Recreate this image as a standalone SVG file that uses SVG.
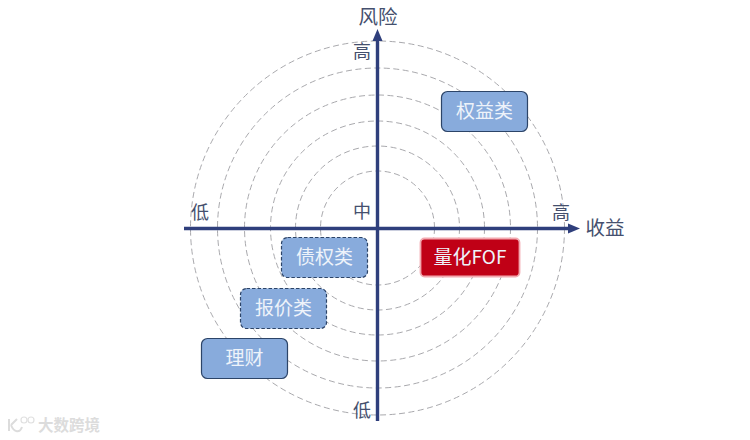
<svg xmlns="http://www.w3.org/2000/svg" width="750" height="440" viewBox="0 0 750 440">
<style>
text{font-family:"Noto Sans CJK SC","Liberation Sans",sans-serif}
.ring{fill:none;stroke:#a9a9ad;stroke-width:1;stroke-dasharray:6 3.5}
.axis{fill:none;stroke:#2f3f7c;stroke-width:3.4}
.head{fill:#2f3f7c}
.lab{font-size:18px;fill:#45506e;text-anchor:middle}
.big{font-size:19.500px}
.box{fill:#88abdc;stroke:#2c4468;stroke-width:1.2}
.dash{stroke-dasharray:3.5 2}
.nt{font-size:19px;fill:#eef3fa;text-anchor:middle}
</style>
<rect width="750" height="440" fill="#ffffff"/>
<g id="rings">
<circle class="ring" cx="377.5" cy="228" r="57"/>
<circle class="ring" cx="377.5" cy="228" r="82"/>
<circle class="ring" cx="377.5" cy="228" r="107"/>
<circle class="ring" cx="377.5" cy="228" r="133"/>
<circle class="ring" cx="377.5" cy="228" r="160"/>
<circle class="ring" cx="377.5" cy="228" r="187"/>
</g>
<g id="connectors">
<path class="axis" d="M377.5 421V40"/>
<path class="head" d="M377.5 29L382.5 41H372.5Z"/>
<path class="axis" d="M184 228.500H569"/>
<path class="head" d="M580 228.500L568 223.500V233.500Z"/>
</g>
<g id="labels">
<text class="lab big" x="378" y="24">风险</text>
<text class="lab" x="362" y="58">高</text>
<text class="lab" x="362" y="218">中</text>
<text class="lab" x="200" y="219">低</text>
<text class="lab" x="561" y="219">高</text>
<text class="lab big" x="605" y="235">收益</text>
<text class="lab" x="362" y="417">低</text>
</g>
<g id="node-quanyi"><rect class="box" x="441.500" y="91.500" width="86" height="40" rx="6"/><text class="nt" x="484.500" y="118">权益类</text></g>
<g id="node-lianghua"><rect x="420.500" y="238.500" width="99" height="38" rx="4" fill="#c00016" stroke="#f2a9b0" stroke-width="1.800"/><text class="nt" x="470" y="264">量化FOF</text></g>
<g id="node-zhaiquan"><rect class="box dash" x="281.500" y="237.500" width="86" height="40" rx="6"/><text class="nt" x="324.500" y="263.500">债权类</text></g>
<g id="node-baojia"><rect class="box dash" x="240.500" y="288.500" width="86" height="40" rx="6"/><text class="nt" x="283.500" y="315">报价类</text></g>
<g id="node-licai"><rect class="box" x="201.500" y="338.500" width="86" height="40" rx="6"/><text class="nt" x="244.500" y="365">理财</text></g>
<g id="watermark">
<path d="M9 419V431M11 425L17 419M11 425C14 433 20 433 22 427" fill="none" stroke="#dcdcdc" stroke-width="2"/>
<circle cx="24" cy="420" r="3" fill="none" stroke="#e0e0e0" stroke-width="1.200"/><circle cx="31" cy="420" r="3" fill="none" stroke="#e0e0e0" stroke-width="1.200"/>
<text x="38" y="431" style="font-size:15.500px;font-weight:700;fill:#dcdcdc">大数跨境</text>
</g>
</svg>
